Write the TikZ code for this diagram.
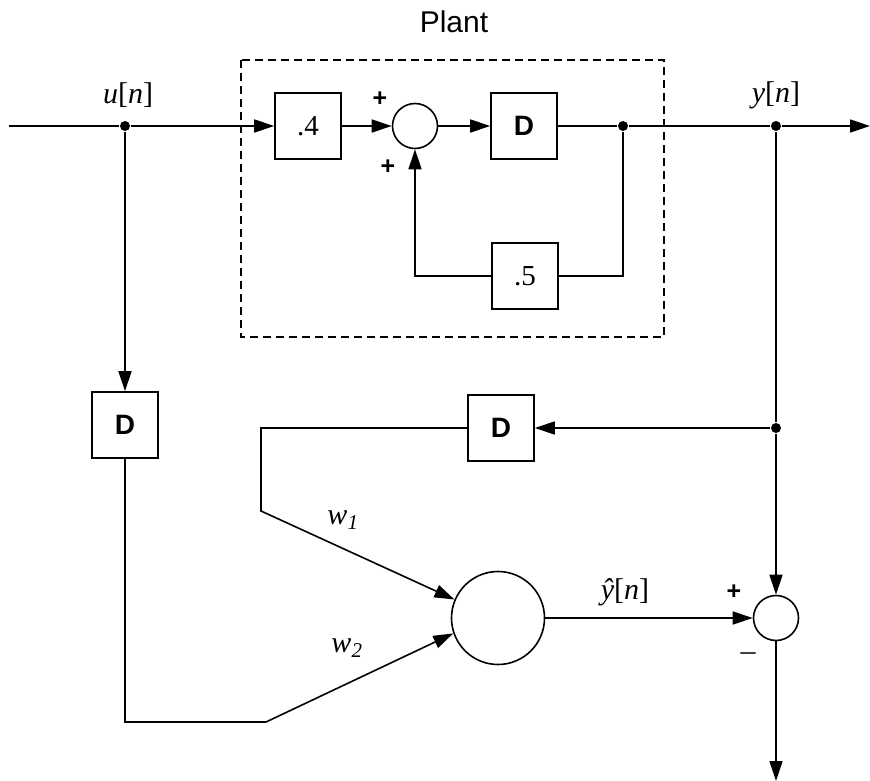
\documentclass[tikz,border=0pt]{standalone}
\usepackage{fontspec}
\setmainfont{Liberation Serif}
\setsansfont{Liberation Sans}
\usetikzlibrary{arrows.meta,positioning,calc}
\begin{document}
\begin{tikzpicture}[x=1pt,y=-1pt,>={Triangle[length=20pt,width=13pt]},line width=1.6pt,
blk/.style={draw,minimum size=66pt,inner sep=0pt,font=\fontsize{29}{29}\selectfont},
dbox/.style={blk,font=\sffamily\bfseries\fontsize{28}{28}\selectfont},
sum/.style={draw,circle,minimum size=45pt,inner sep=0pt},
dot/.style={circle,fill,inner sep=0pt,minimum size=10pt},
lbl/.style={font=\fontsize{30}{30}\selectfont},
sgn/.style={font=\sffamily\bfseries\fontsize{25}{25}\selectfont}]
\useasboundingbox (0,0) rectangle (870,781);
\node[font=\sffamily\fontsize{30}{30}\selectfont] (plant) at (454,22) {Plant};
\draw[dash pattern=on 8pt off 5pt,line width=1.4pt] (241,60) rectangle (664,337);
\coordinate (in) at (9,126);
\coordinate (out) at (870,126);
\node[dot] (ud) at (125,126) {};
\node[blk] (g4) at (308,126) {.4};
\node[sum] (s1) at (415,126) {};
\node[dbox] (d1) at (524,126) {D};
\node[dot] (j1) at (623,126) {};
\node[blk] (g5) at (525,276) {.5};
\node[dot] (yd) at (776,126) {};
\node[dot] (md) at (776,428) {};
\node[dbox] (dm) at (501,428) {D};
\node[dbox] (dl) at (125,425) {D};
\node[draw,circle,minimum size=93pt,inner sep=0pt] (ac) at (498,618) {};
\node[sum] (s2) at (776,618) {};
\coordinate (c2) at (261,511);
\coordinate (c4) at (266,722);
\coordinate (end) at (776,781);
\node[lbl] (ulbl) at (128,95) {\textit{u}[\textit{n}]};
\node[lbl] (ylbl) at (776,95) {\textit{y}[\textit{n}]};
\node[sgn] (p1) at (380,99) {+};
\node[sgn] (p2) at (388,167) {+};
\node[lbl] (w1) at (343,520) {\textit{w}\textsubscript{\textit{1}}};
\node[lbl] (w2) at (347,648) {\textit{w}\textsubscript{\textit{2}}};
\node[lbl] (yhat) at (625,592) {\textit{ŷ}[\textit{n}]};
\node[sgn] (p3) at (734,592) {+};
\node[lbl] (m3) at (748,657) {–};
\draw[->] (in) -- (ud) -- (g4);
\draw[->] (g4) -- (s1);
\draw[->] (s1) -- (d1);
\draw (d1) -- (j1) -- (yd);
\draw[->] (yd) -- (out);
\draw (j1) |- (g5);
\draw[->] (g5) -| (s1);
\draw[->] (ud) -- (dl);
\draw[->] (dl) |- (c4) -- (ac.199);
\draw (yd) -- (md);
\draw[->] (md) -- (dm);
\draw[->] (dm) -| (c2) -- (ac.157);
\draw[->] (md) -- (s2);
\draw[->] (ac) -- (s2);
\draw[->] (s2) -- (end);
\end{tikzpicture}
\end{document}
